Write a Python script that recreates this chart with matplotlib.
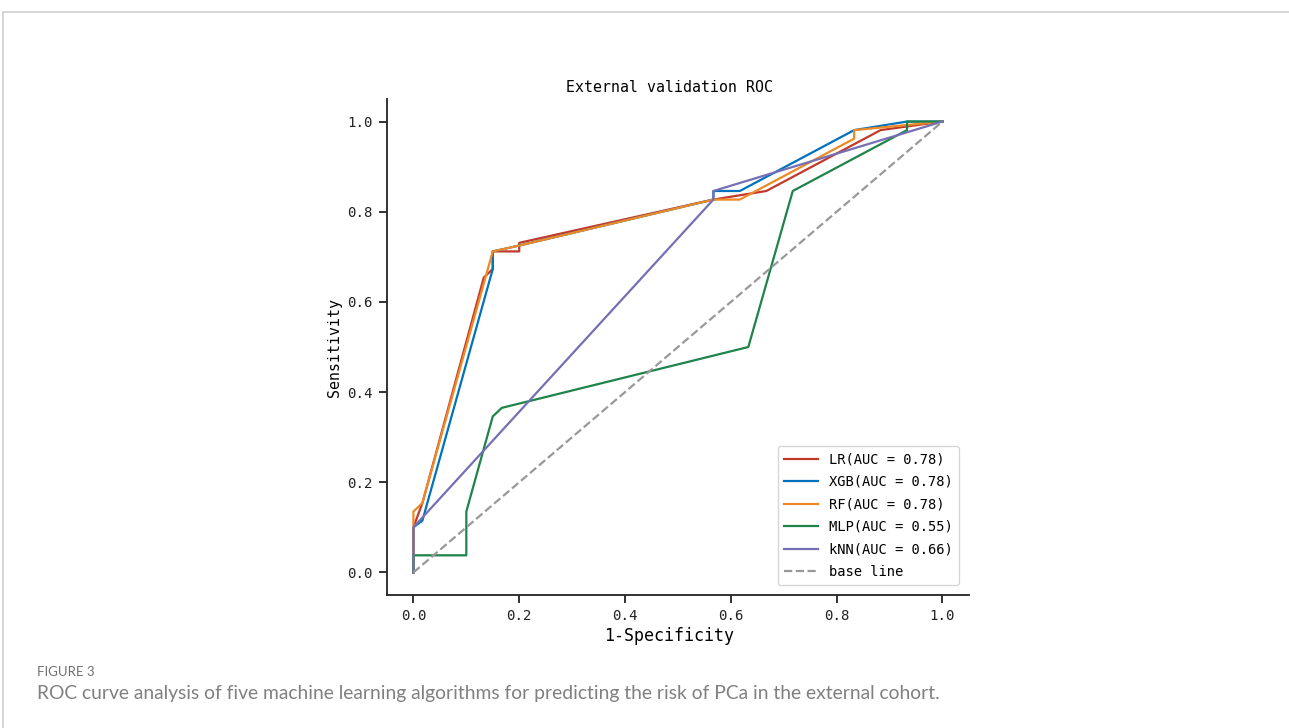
import matplotlib
matplotlib.use("Agg")
import matplotlib.pyplot as plt
from matplotlib.lines import Line2D

# ---- data ----
model_names = ["LR", "XGB", "RF", "MLP", "kNN"]
auc_values = [0.78, 0.78, 0.78, 0.55, 0.66]

lr_fpr = [0, 0, 0.017, 0.133, 0.15, 0.15, 0.2, 0.2, 0.567, 0.667, 0.883, 1.0]
lr_tpr = [0, 0.1, 0.154, 0.654, 0.673, 0.712, 0.712, 0.731, 0.827, 0.846, 0.981, 1.0]

xgb_fpr = [0, 0, 0.017, 0.15, 0.15, 0.2, 0.567, 0.567, 0.617, 0.833, 0.933, 1.0]
xgb_tpr = [0, 0.1, 0.115, 0.673, 0.712, 0.725, 0.827, 0.846, 0.846, 0.981, 1.0, 1.0]

rf_fpr = [0, 0, 0, 0.017, 0.15, 0.2, 0.567, 0.617, 0.833, 0.833, 1.0]
rf_tpr = [0, 0.1, 0.135, 0.154, 0.712, 0.725, 0.827, 0.827, 0.962, 0.981, 1.0]

mlp_fpr = [0, 0, 0.1, 0.1, 0.15, 0.167, 0.633, 0.717, 0.933, 0.933, 1.0]
mlp_tpr = [0, 0.038, 0.038, 0.135, 0.346, 0.365, 0.5, 0.846, 0.981, 1.0, 1.0]

knn_fpr = [0, 0, 0.567, 0.567, 1.0]
knn_tpr = [0, 0.1, 0.827, 0.846, 1.0]

base_xy = [0, 1]

tick_values = [0, 0.2, 0.4, 0.6, 0.8, 1.0]
tick_labels = ["0.0", "0.2", "0.4", "0.6", "0.8", "1.0"]

colors = ["#C0392B", "#0072BD", "#EE8A25", "#1E8449", "#7570B3"]

plt.rcParams['font.family'] = ['DejaVu Sans Mono', 'DejaVu Sans']

fig = plt.figure(figsize=(12.89, 7.28), dpi=100)
ax = fig.add_axes([0.3002, 0.1827, 0.4515, 0.6813])

curves = [(lr_fpr, lr_tpr), (xgb_fpr, xgb_tpr), (rf_fpr, rf_tpr),
          (mlp_fpr, mlp_tpr), (knn_fpr, knn_tpr)]
for (fx, ty), name, auc, c in zip(curves, model_names, auc_values, colors):
    ax.plot(fx, ty, color=c, lw=1.6, label=f"{name}(AUC = {auc:.2f})")
ax.plot(base_xy, base_xy, color="#999999", lw=1.6, ls="--", label="base line")

ax.set_xlim(-0.05, 1.05)
ax.set_ylim(-0.05, 1.05)
ax.set_xticks(tick_values)
ax.set_yticks(tick_values)
ax.set_xticklabels(tick_labels)
ax.set_yticklabels(tick_labels)
for s in ["top", "right"]:
    ax.spines[s].set_visible(False)
for s in ["left", "bottom"]:
    ax.spines[s].set_linewidth(1.3)
    ax.spines[s].set_color("#222222")
ax.tick_params(direction="out", length=6, width=1.3, labelsize=10.2, colors="#222222", pad=4)

ax.set_title("External validation ROC", fontsize=10.7, pad=5, x=0.485)
ax.set_xlabel("1-Specificity", fontsize=12, labelpad=3)
ax.xaxis.set_label_coords(0.484, -0.065)
ax.set_ylabel("Sensitivity", fontsize=10.7, labelpad=4)

leg = ax.legend(loc="lower right", fontsize=9.9, frameon=True, fancybox=True,
                handlelength=2.5, borderpad=0.45, labelspacing=0.62,
                bbox_to_anchor=(0.995, 0.006))
leg.get_frame().set_edgecolor("#cccccc")
leg.get_frame().set_linewidth(1.0)

# page frame and caption
fig.add_artist(Line2D([3 / 1289, 1.0], [1 - 12 / 728, 1 - 12 / 728], color="#d0d0d0", lw=1.2))
fig.add_artist(Line2D([3 / 1289, 3 / 1289], [0, 1 - 12 / 728], color="#d0d0d0", lw=1.2))
fig.text(37 / 1289, 1 - 672 / 728, "FIGURE 3", fontsize=9.5, color="#707070",
         family=["Lato", "DejaVu Sans"], va="center", ha="left")
fig.text(37 / 1289, 1 - 693 / 728,
         "ROC curve analysis of five machine learning algorithms for predicting the risk of PCa in the external cohort.",
         fontsize=13.9, color="#808080", family=["Lato", "DejaVu Sans"], va="center", ha="left")

fig.savefig("out.png", dpi=100)
